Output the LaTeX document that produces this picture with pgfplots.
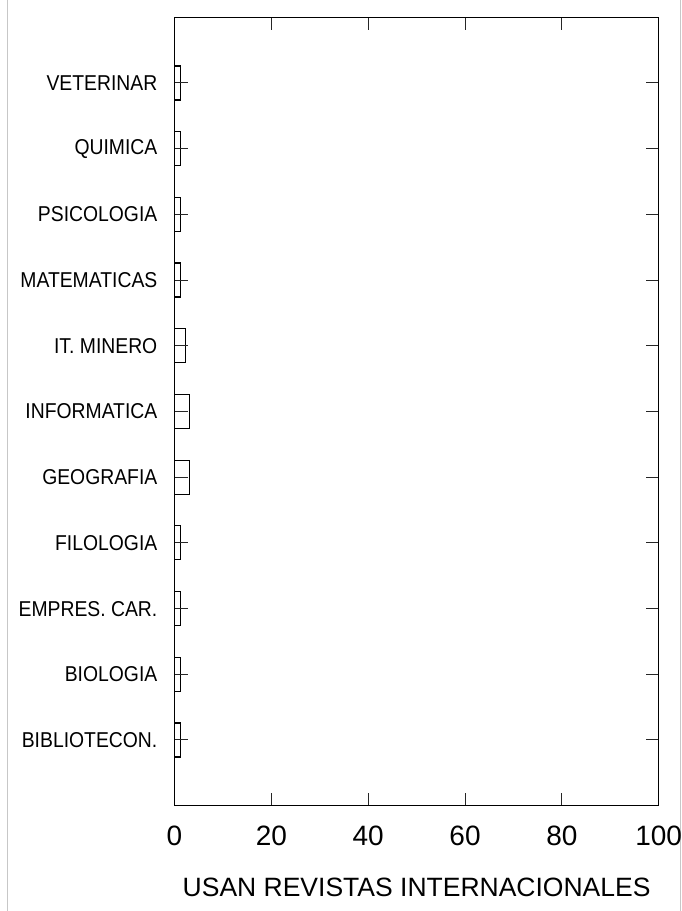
\documentclass[border=0pt]{standalone}
\usepackage{fontspec}
\setmainfont{Liberation Sans}
\usepackage{graphicx}
\usepackage{pgfplots}
\pgfplotsset{compat=1.18}
\newcommand\lab[1]{\scalebox{0.9}[1]{#1}}
\begin{document}
\begin{tikzpicture}[x=1pt,y=1pt]
\useasboundingbox (0,0) rectangle (682,911);
\draw[line width=1.3pt, black!22] (7.5,0) -- (7.5,911);
\draw[line width=1.3pt, black!22] (680.5,0) -- (680.5,911);
\begin{axis}[
  at={(174.5pt,105.3pt)}, anchor=south west,
  scale only axis, width=484.2pt, height=788.4pt,
  xmin=0, xmax=100, ymin=-1, ymax=11,
  xbar, bar width=34pt,
  xtick={0,20,40,60,80,100},
  ytick={0,1,2,3,4,5,6,7,8,9,10},
  yticklabels={\lab{BIBLIOTECON.},\lab{BIOLOGIA},\lab{EMPRES. CAR.},\lab{FILOLOGIA},\lab{GEOGRAFIA},\lab{INFORMATICA},\lab{IT. MINERO},\lab{MATEMATICAS},\lab{PSICOLOGIA},\lab{QUIMICA},\lab{VETERINAR}},
  tick align=inside, major tick length=13pt,
  axis line style={line width=1.4pt, black},
  tick style={line width=1pt, black!85},
  axis on top,
  /pgf/number format/assume math mode=true,
  xticklabel style={font=\fontsize{28}{30}\selectfont, inner sep=0pt, anchor=north},
  xticklabel shift=20pt,
  yticklabel style={font=\fontsize{21.5}{24}\selectfont, inner sep=0pt, anchor=east},
  yticklabel shift=17pt,
  xlabel={USAN REVISTAS INTERNACIONALES},
  xlabel style={font=\fontsize{26.5}{30}\selectfont, at={(axis description cs:0.5,0)}, anchor=north, inner sep=0pt, yshift=-72pt},
]
\addplot[draw=black, fill=white, line width=1.2pt] coordinates {
(1.2,0) (1.2,1) (1.2,2) (1.2,3) (3.1,4) (3.1,5) (2.2,6) (1.2,7) (1.2,8) (1.2,9) (1.3,10)
};
\end{axis}
\end{tikzpicture}
\end{document}
